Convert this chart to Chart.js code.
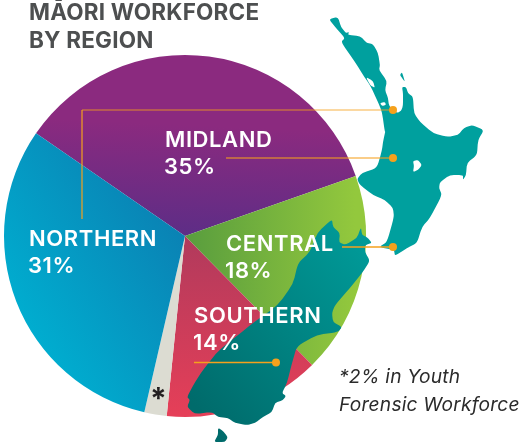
<!DOCTYPE html>
<html>
<head>
<meta charset="utf-8">
<title>Māori workforce by region</title>
<script src="https://cdn.jsdelivr.net/npm/chart.js@4"></script>
<style>
  html, body { margin: 0; padding: 0; background: #fff; }
  canvas { display: block; }
</style>
</head>
<body>
<canvas id="chart" width="522" height="442"></canvas>
<script>
const titleLines = ['MĀORI WORKFORCE', 'BY REGION'];
const categories = ['MIDLAND', 'CENTRAL', 'SOUTHERN', '*', 'NORTHERN'];
const shares = [35, 18, 14, 2, 31];
const footnote = ['*2% in Youth', 'Forensic Workforce'];

// map outline, traced by eye (not data)
const northIsland = [[329,19],[338,17],[341,27],[346,33],[349,32],[348,35],[360,36],[367,43],[373,44],[378,53],[380,65],[379,70],[387,81],[385,90],[388,98],[389,106],[397,113],[401,111],[403,106],[403,93],[402,87],[406,87],[408,93],[413,97],[414,113],[420,122],[433,133],[447,137],[458,135],[464,128],[472,125],[484,130],[478,140],[477,155],[467,163],[466,175],[463,180],[463,175],[450,175],[440,182],[439,188],[442,195],[430,218],[422,227],[417,243],[407,248],[395,256],[394,250],[379,247],[387,242],[394,217],[393,208],[385,200],[373,195],[360,185],[357,179],[362,173],[377,168],[382,150],[383,142],[386,128],[385,133],[382,112],[378,102],[370,85],[365,78],[355,62],[341,42],[345,38],[335,27]];
const greatBarrier = [[400,75],[402,72],[405,82],[402,78]];
const holes = [
  [[413,161],[418,160],[422,165],[418,170],[413,172],[414,166]],
  [[366,77],[373,81],[375,88],[370,85]],
  [[380,103],[385,102],[386,105],[382,106]]
];
const southIsland = [[332,219],[333,227],[340,233],[339,242],[345,245],[357,238],[361,227],[362,235],[367,237],[372,243],[365,245],[365,252],[370,261],[362,273],[350,288],[335,305],[332,313],[333,322],[342,327],[338,332],[317,335],[297,346],[292,363],[287,383],[282,393],[286,396],[283,400],[275,403],[272,412],[263,417],[255,423],[247,425],[235,423],[228,418],[218,417],[212,412],[195,414],[187,407],[190,400],[187,397],[195,382],[203,370],[218,351],[253,323],[278,305],[293,284],[298,263],[310,252],[317,233]];
const stewartIsland = [[218,428],[222,430],[228,437],[225,442],[214,442],[218,435]];

function grad(ctx, x0, y0, x1, y1, c0, c1) {
  const g = ctx.createLinearGradient(x0, y0, x1, y1);
  g.addColorStop(0, c0);
  g.addColorStop(1, c1);
  return g;
}

// only the corners get rounded, so the outline keeps its size
function blob(ctx, pts) {
  const n = pts.length, k = 0.3;
  const lerp = (a, b) => [a[0] + (b[0] - a[0]) * k, a[1] + (b[1] - a[1]) * k];
  ctx.beginPath();
  for (let i = 0; i < n; i++) {
    const p = pts[i];
    const a = lerp(p, pts[(i + n - 1) % n]);
    const b = lerp(p, pts[(i + 1) % n]);
    if (i === 0) ctx.moveTo(a[0], a[1]);
    else ctx.lineTo(a[0], a[1]);
    ctx.quadraticCurveTo(p[0], p[1], b[0], b[1]);
  }
  ctx.closePath();
  ctx.fill();
}

function leader(ctx, x0, y, x1, color) {
  ctx.strokeStyle = color;
  ctx.lineWidth = 1.5;
  ctx.beginPath();
  ctx.moveTo(x0, y);
  ctx.lineTo(x1, y);
  ctx.stroke();
  ctx.fillStyle = '#f5a11c';
  ctx.beginPath();
  ctx.arc(x1, y, 4, 0, Math.PI * 2);
  ctx.fill();
}

function label(ctx, name, share, x, y) {
  ctx.fillStyle = '#fff';
  ctx.font = '600 22px Inter';
  ctx.letterSpacing = '0.6px';
  ctx.fillText(name, x, y);
  ctx.fillText(share + '%', x - 1, y + 27);
}

const overlay = {
  id: 'overlay',
  afterDraw(chart) {
    const ctx = chart.ctx;
    ctx.save();

    // the islands sit on top of the pie
    ctx.fillStyle = '#00a09e';
    blob(ctx, northIsland);
    blob(ctx, greatBarrier);
    ctx.fillStyle = grad(ctx, 190, 400, 370, 250, '#006b6b', '#009a98');
    blob(ctx, southIsland);
    blob(ctx, stewartIsland);
    ctx.fillStyle = '#fff';
    holes.forEach(h => blob(ctx, h));

    // leader lines
    leader(ctx, 82, 110, 393, 'rgba(245,161,28,0.55)');
    ctx.strokeStyle = '#f5a11c';
    ctx.lineWidth = 1.2;
    ctx.beginPath();
    ctx.moveTo(82, 110);
    ctx.lineTo(82, 219);
    ctx.stroke();
    leader(ctx, 226, 158, 393, 'rgba(245,161,28,0.7)');
    leader(ctx, 342, 247, 393, '#f5a11c');
    leader(ctx, 194, 362.5, 276, '#f5a11c');

    // title
    ctx.textBaseline = 'alphabetic';
    ctx.textAlign = 'left';
    ctx.fillStyle = '#4d4f50';
    ctx.font = '700 22.5px Inter';
    ctx.letterSpacing = '0.2px';
    ctx.fillText(titleLines[0], 29, 20);
    ctx.fillText(titleLines[1], 29, 48);

    // slice labels
    label(ctx, categories[0], shares[0], 165, 147);
    label(ctx, categories[1], shares[1], 226, 251);
    label(ctx, categories[2], shares[2], 194, 323);
    label(ctx, categories[4], shares[4], 29, 246);

    ctx.fillStyle = '#231f20';
    ctx.font = '700 30px Inter';
    ctx.letterSpacing = '0px';
    ctx.fillText(categories[3], 150, 409);

    // footnote
    ctx.fillStyle = '#2b2b2b';
    ctx.font = 'italic 400 19.2px Inter';
    ctx.letterSpacing = '0.2px';
    ctx.fillText(footnote[0], 339, 383);
    ctx.fillText(footnote[1], 339, 411);

    ctx.restore();
  }
};

const canvas = document.getElementById('chart');
const c2d = canvas.getContext('2d');

new Chart(canvas, {
  type: 'pie',
  data: {
    labels: categories,
    datasets: [{
      data: shares,
      borderWidth: 0,
      backgroundColor: [
        grad(c2d, 190, 125, 185, 236, '#8b2a7f', '#5d2d86'),
        grad(c2d, 190, 236, 355, 236, '#5a9e3e', '#93c83d'),
        grad(c2d, 185, 240, 185, 415, '#b23a5c', '#e53f58'),
        '#dcdcd2',
        grad(c2d, 30, 340, 185, 236, '#00aed0', '#0a82b4')
      ]
    }]
  },
  options: {
    responsive: false,
    animation: false,
    rotation: -55.4,
    layout: { padding: { left: 4, right: 156, top: 55, bottom: 25 } },
    plugins: {
      legend: { display: false },
      tooltip: { enabled: false }
    }
  },
  plugins: [overlay]
});
</script>
</body>
</html>
